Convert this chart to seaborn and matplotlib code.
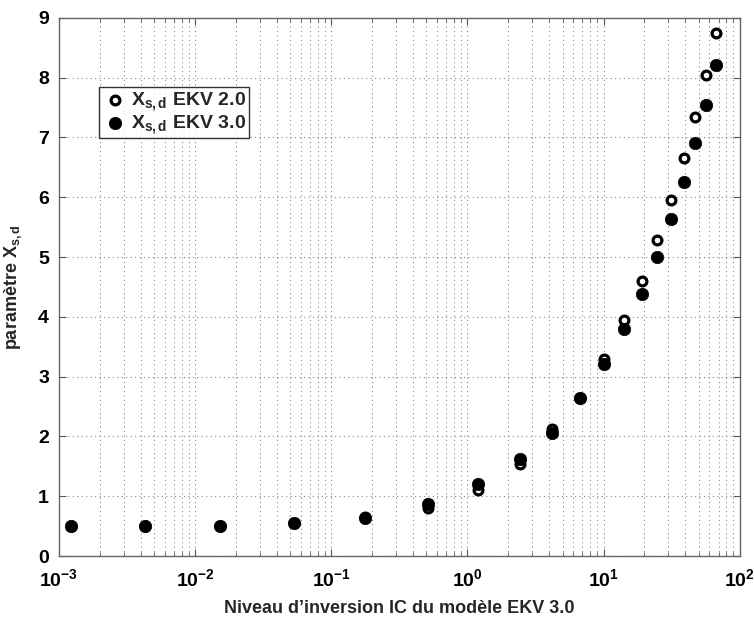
import numpy as np
import pandas as pd
import matplotlib
matplotlib.use("Agg")
import matplotlib.pyplot as plt
import seaborn as sns
from matplotlib.ticker import LogLocator, FixedLocator, NullFormatter

# Inversion coefficient IC (EKV 3.0) and X_s,d values
ic = [0.00122, 0.00427, 0.0152, 0.053, 0.177, 0.51, 1.2, 2.43, 4.2, 6.77,
      10.1, 14.1, 19.2, 24.9, 31.5, 38.8, 47.2, 56.9, 67.4]
xsd_ekv2 = [0.50, 0.50, 0.51, 0.55, 0.65, 0.80, 1.10, 1.54, 2.12, 2.65,
            3.29, 3.95, 4.60, 5.28, 5.96, 6.65, 7.35, 8.04, 8.75]
xsd_ekv3 = [0.50, 0.50, 0.51, 0.55, 0.63, 0.87, 1.21, 1.63, 2.06, 2.65,
            3.21, 3.79, 4.39, 5.00, 5.63, 6.26, 6.90, 7.55, 8.22]

label_ekv2 = r"$\mathrm{X_{s,d}}$ EKV 2.0"
label_ekv3 = r"$\mathrm{X_{s,d}}$ EKV 3.0"

df = pd.DataFrame({"ic": ic, "ekv2": xsd_ekv2, "ekv3": xsd_ekv3})

sns.set_theme(style="ticks")
plt.rcParams["font.family"] = ["Liberation Sans", "DejaVu Sans"]
plt.rcParams["font.weight"] = "bold"
plt.rcParams["mathtext.fontset"] = "custom"
plt.rcParams["mathtext.rm"] = "Liberation Sans:bold"
plt.rcParams["mathtext.bf"] = "Liberation Sans:bold"
plt.rcParams["mathtext.it"] = "Liberation Sans:bold"
plt.rcParams["mathtext.default"] = "rm"

fig = plt.figure(figsize=(7.54, 6.18), dpi=100)
ax = fig.add_axes([0.078, 0.1003, 0.903, 0.8707])

# open circles first, filled ones drawn on top
sns.scatterplot(data=df, x="ic", y="ekv2", ax=ax, marker="o", s=40,
                facecolors="white", edgecolor="black", linewidth=2.3,
                label=label_ekv2, zorder=3)
sns.scatterplot(data=df, x="ic", y="ekv3", ax=ax, marker="o", s=80,
                color="black", edgecolor="black", linewidth=0.5,
                label=label_ekv3, zorder=4)

ax.set_xscale("log")
ax.set_xlim(1e-3, 1e2)
ax.set_ylim(0, 9)
ax.set_yticks(range(0, 10))
ax.xaxis.set_major_locator(FixedLocator([1e-3, 1e-2, 1e-1, 1e0, 1e1, 1e2]))
ax.set_xticklabels([r"$10^{-3}$", r"$10^{-2}$", r"$10^{-1}$", r"$10^{0}$",
                    r"$10^{1}$", r"$10^{2}$"])
ax.xaxis.set_minor_locator(LogLocator(base=10, subs=np.arange(2, 10), numticks=20))
ax.xaxis.set_minor_formatter(NullFormatter())

ax.grid(True, which="major", axis="both", linestyle=(0, (1, 3)), color="#888888", linewidth=0.8)
ax.grid(True, which="minor", axis="x", linestyle=(0, (1, 3)), color="#888888", linewidth=0.8)

ax.tick_params(axis="both", which="major", direction="in", top=True, right=True,
               length=5, width=0.8, labelsize=14, colors="#555555", labelcolor="black")
ax.tick_params(axis="x", which="major", pad=9)
ax.tick_params(axis="y", which="major", pad=7)
ax.tick_params(axis="x", which="minor", direction="in", top=True, bottom=True,
               length=3, width=0.6, colors="#555555")
for s in ax.spines.values():
    s.set_color("#666666")
    s.set_linewidth(1.0)

ax.set_xlabel("Niveau d\u2019inversion IC du modèle EKV 3.0", fontsize=13,
              fontweight="bold", labelpad=7)
ax.set_ylabel(r"paramètre $\mathrm{X_{s,d}}$", fontsize=13, fontweight="bold", labelpad=10)

leg = ax.legend(loc="upper left", bbox_to_anchor=(0.059, 0.872), borderaxespad=0,
                fontsize=14, frameon=True, fancybox=False, handletextpad=0.2,
                handlelength=1.3, borderpad=0.15, labelspacing=0.0)
leg.get_frame().set_edgecolor("black")
leg.get_frame().set_linewidth(1.0)

fig.savefig("out.png", dpi=100)
